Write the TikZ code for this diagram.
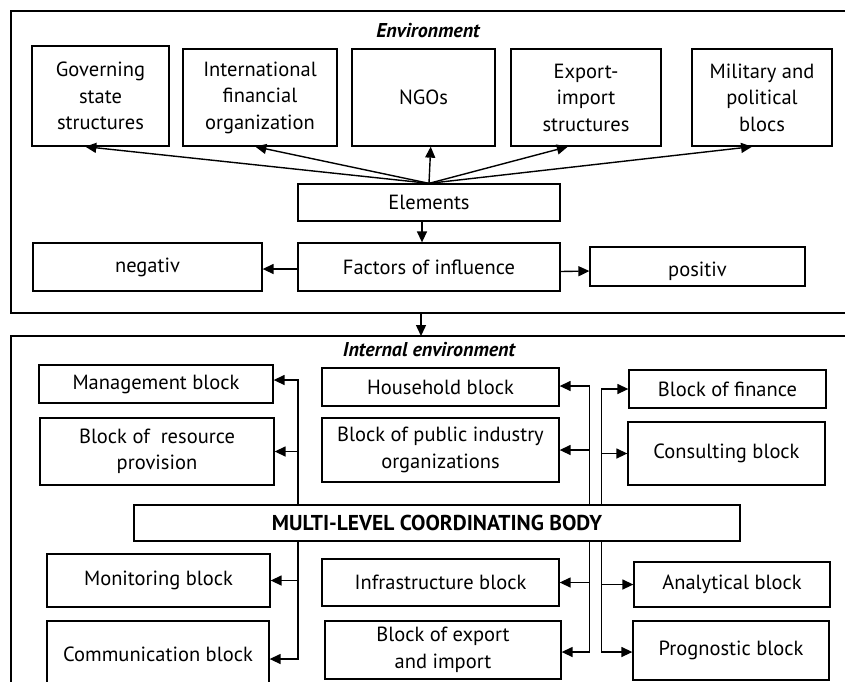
\documentclass[tikz,border=0pt]{standalone}
\usepackage{fontspec}
\setmainfont{PT Sans}
\usetikzlibrary{arrows.meta,calc}
\tikzset{
  box/.style={draw, line width=1.3pt, inner sep=2pt, align=center, font=\fontsize{20.5}{26.5}\selectfont},
  frame/.style={line width=2pt},
  arr/.style={line width=1.4pt, -{Triangle[length=11pt,width=10pt]}},
  ttl/.style={font=\fontsize{20}{24}\selectfont\bfseries\itshape}
}
\begin{document}
\begin{tikzpicture}[x=1pt,y=-1pt]
\clip (0,0) rectangle (845,681);
\fill[white] (0,0) rectangle (845,681);
% frames
\draw[frame] (860,11) -- (11,11) -- (11,313) -- (860,313);
\draw[frame] (860,336) -- (11,336) -- (11,700);
\node[ttl] (env) at (428,31) {Environment};
\node[ttl] (ienv) at (429,350) {Internal environment};
% top boxes
\node[box, minimum width=137, minimum height=100] (gov) at (100.5,96) {Governing\\state\\structures};
\node[box, minimum width=154, minimum height=97] (intl) at (260,97.5) {International\\financial\\organization};
\node[box, minimum width=143, minimum height=97] (ngo) at (423.5,97.5) {NGOs};
\node[box, minimum width=150, minimum height=97] (exp) at (586,97.5) {Export-\\import\\structures};
\node[box, minimum width=140, minimum height=97] (mil) at (762,97.5) {Military and\\political\\blocs};
\node[box, minimum width=262, minimum height=37] (elem) at (429,202.5) {Elements};
\node[box, minimum width=262, minimum height=48] (fact) at (429,267) {Factors of influence};
\node[box, minimum width=229, minimum height=48] (neg) at (147.5,267) {negativ};
\node[box, minimum width=215, minimum height=39] (pos) at (697.5,266.5) {\raisebox{-10pt}[0pt][0pt]{positiv}};
\draw[arr] (elem.north) -- ($(gov.south west)!0.39!(gov.south east)$);
\draw[arr] (elem.north) -- ($(intl.south west)!0.47!(intl.south east)$);
\draw[arr] (elem.north) -- ($(ngo.south west)!0.55!(ngo.south east)$);
\draw[arr] (elem.north) -- ($(exp.south west)!0.38!(exp.south east)$);
\draw[arr] (elem.north) -- ($(mil.south west)!0.43!(mil.south east)$);
\draw[arr] ([xshift=-7]elem.south) -- ([xshift=-7]fact.north);
\draw[arr] ([yshift=-2]fact.west) -- ([yshift=-2]neg.east);
\draw[arr] ([yshift=-4.5]fact.east) -- ([yshift=-4.5]pos.west);
\coordinate (ca) at (421,313);
\coordinate (cb) at (421,336);
\draw[arr] (ca) -- (cb);
% bottom boxes
\node[box, minimum width=234, minimum height=38] (mgmt) at (156,384) {Management block};
\node[box, minimum width=234, minimum height=67] (res) at (157,451.5) {Block of~ resource\\provision};
\node[box, minimum width=223, minimum height=53] (mon) at (158.5,580.5) {Monitoring block};
\node[box, minimum width=222, minimum height=66] (comm) at (158,654) {Communication block};
\node[box, minimum width=237, minimum height=38] (house) at (440.5,387) {Household block};
\node[box, minimum width=237, minimum height=64] (pub) at (440.5,450) {Block of public industry\\organizations};
\node[box, minimum width=237, minimum height=47] (infra) at (440.5,582.5) {Infrastructure block};
\node[box, minimum width=236, minimum height=58] (expimp) at (443,650) {Block of export\\and import};
\node[box, minimum width=197, minimum height=38] (fin) at (727.5,389) {Block of finance};
\node[box, minimum width=197, minimum height=63] (cons) at (726.5,453.5) {Consulting block};
\node[box, minimum width=196, minimum height=45] (anal) at (732,584.5) {Analytical block};
\node[box, minimum width=196, minimum height=59] (prog) at (731,650.5) {Prognostic block};
\node[box, minimum width=606, minimum height=36, font=\fontsize{21.5}{24}\selectfont\bfseries] (mlcb) at (437,523) {MULTI-LEVEL COORDINATING BODY};
% trunks
\coordinate (tL) at (298,0);
\coordinate (tM) at (589.5,0);
\coordinate (tR) at (601.5,0);
\draw[arr] (mlcb.north -| tL) |- ([yshift=4]mgmt.east);
\draw[arr] (tL |- res.east) -- (res.east);
\draw[arr] (mlcb.south -| tL) |- ([yshift=-5]comm.east);
\draw[arr] (tL |- mon.east) -- (mon.east);
\draw[arr] (mlcb.north -| tM) |- ([yshift=1]house.east);
\draw[arr] (tM |- pub.east) -- (pub.east);
\draw[arr] (mlcb.south -| tM) |- ([yshift=-2]expimp.east);
\draw[arr] (tM |- infra.east) -- (infra.east);
\draw[arr] (mlcb.north -| tR) |- (fin.west);
\draw[arr] (tR |- cons.west) -- (cons.west);
\draw[arr] (mlcb.south -| tR) |- ([yshift=-1.5]prog.west);
\draw[arr] (tR |- anal.west) -- (anal.west);
\end{tikzpicture}
\end{document}
